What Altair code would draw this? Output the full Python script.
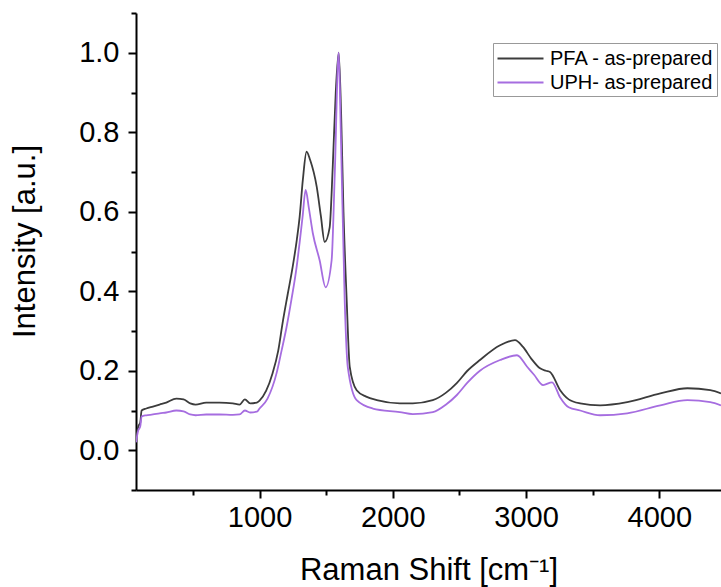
import altair as alt
import pandas as pd

# PFA - as-prepared (dark curve)
pfa_x = [73, 90, 105, 115, 150, 200, 250, 300, 376, 430, 480, 520, 600, 700, 800, 850, 890, 930, 980,
         1000, 1050, 1098, 1140, 1173, 1210, 1248, 1280, 1301, 1325, 1353, 1380, 1429, 1460, 1489, 1526,
         1549, 1572, 1594, 1612, 1630, 1654, 1677, 1729, 1800, 1880, 2053, 2150, 2300, 2400, 2480, 2560,
         2654, 2805, 2917, 2977, 3040, 3105, 3150, 3180, 3256, 3320, 3406, 3556, 3759, 4008, 4211, 4383, 4463]
pfa_y = [0.03, 0.06, 0.07, 0.10, 0.105, 0.11, 0.115, 0.12, 0.13, 0.128, 0.118, 0.115, 0.12, 0.12, 0.118, 0.115, 0.128, 0.118, 0.12,
         0.125, 0.15, 0.194, 0.25, 0.32, 0.39, 0.46, 0.53, 0.587, 0.68, 0.751, 0.73, 0.663, 0.59, 0.524, 0.56,
         0.71, 0.90, 1.0, 0.85, 0.60, 0.378, 0.21, 0.151, 0.135, 0.126, 0.118, 0.118, 0.126, 0.145, 0.169, 0.20,
         0.227, 0.264, 0.277, 0.26, 0.23, 0.206, 0.20, 0.197, 0.151, 0.128, 0.118, 0.113, 0.121, 0.143, 0.156, 0.151, 0.143]

# UPH- as-prepared (purple curve)
uph_x = [73, 90, 105, 115, 150, 200, 250, 300, 376, 430, 480, 520, 600, 700, 800, 850, 890, 930, 980,
         1000, 1060, 1128, 1165, 1203, 1240, 1278, 1300, 1323, 1346, 1370, 1400, 1451, 1496, 1541,
         1565, 1594, 1610, 1639, 1662, 1729, 1850, 2053, 2150, 2301, 2400, 2481, 2560, 2654, 2805, 2932,
         3008, 3060, 3128, 3195, 3256, 3320, 3406, 3556, 3759, 4008, 4211, 4383, 4463]
uph_y = [0.02, 0.05, 0.06, 0.085, 0.088, 0.09, 0.093, 0.095, 0.10, 0.098, 0.09, 0.088, 0.09, 0.09, 0.089, 0.09, 0.10, 0.095, 0.097,
         0.105, 0.13, 0.194, 0.25, 0.31, 0.38, 0.46, 0.52, 0.587, 0.655, 0.61, 0.546, 0.478, 0.41, 0.478,
         0.70, 1.0, 0.80, 0.378, 0.21, 0.126, 0.105, 0.096, 0.091, 0.096, 0.115, 0.139, 0.17, 0.20, 0.227, 0.239,
         0.21, 0.19, 0.164, 0.171, 0.133, 0.108, 0.10, 0.088, 0.093, 0.113, 0.126, 0.121, 0.113]

series_names = ["PFA - as-prepared", "UPH- as-prepared"]
series_colors = ["#3c3c3c", "#a66de0"]

x_ticks = [500, 1000, 1500, 2000, 2500, 3000, 3500, 4000]
y_ticks = [-0.1, 0.0, 0.1, 0.2, 0.3, 0.4, 0.5, 0.6, 0.7, 0.8, 0.9, 1.0, 1.1]

df = pd.concat([
    pd.DataFrame({"shift": pfa_x, "intensity": pfa_y, "series": series_names[0], "order": range(len(pfa_x))}),
    pd.DataFrame({"shift": uph_x, "intensity": uph_y, "series": series_names[1], "order": range(len(uph_x))}),
])

FONT = "Liberation Sans"

chart = alt.Chart(df).mark_line(strokeWidth=1.8, interpolate="monotone", clip=True).encode(
    x=alt.X("shift:Q",
            scale=alt.Scale(domain=[73, 4463], nice=False, zero=False),
            axis=alt.Axis(title="Raman Shift [cm⁻¹]", values=x_ticks, format="d",
                          labelExpr="datum.value % 1000 == 0 ? datum.label : ''",
                          tickSize={"condition": {"test": "datum.value % 1000 == 0", "value": 8}, "value": 5},
                          grid=False, labelPadding=5, titlePadding=23)),
    y=alt.Y("intensity:Q",
            scale=alt.Scale(domain=[-0.1, 1.1], nice=False, zero=False),
            axis=alt.Axis(title="Intensity [a.u.]", values=y_ticks, format=".1f",
                          labelExpr="round(datum.value * 10) % 2 == 0 && datum.value > -0.05 && datum.value < 1.05 ? datum.label : ''",
                          tickSize={"condition": {"test": "round(datum.value * 10) % 2 == 0", "value": 8}, "value": 5},
                          grid=False, labelPadding=9, titlePadding=37, titleY=228)),
    color=alt.Color("series:N",
                    scale=alt.Scale(domain=series_names, range=series_colors),
                    legend=alt.Legend(title=None, orient="none", legendX=357, legendY=30,
                                      symbolType="M-2,0L2,0", symbolSize=529, symbolStrokeWidth=1.8,
                                      symbolOffset=12,
                                      labelFontSize=20, labelFont=FONT, labelColor="#000000", labelLimit=0,
                                      strokeColor="#999999", padding=3, rowPadding=1,
                                      labelOffset=17)),
    order="order:Q",
).properties(
    width=585,
    height=477,
    padding={"left": 136, "top": 13, "right": 0, "bottom": 97},
    autosize=alt.AutoSizeParams(type="none"),
).configure_view(
    stroke=None
).configure_axis(
    domainColor="#000000", domainWidth=2, tickColor="#000000", tickWidth=2,
    labelFont=FONT, labelFontSize=29, labelColor="#000000",
    titleFont=FONT, titleFontSize=31, titleColor="#000000", titleFontWeight="normal",
)

chart.save("out.html", embed_options={"renderer": "svg", "actions": False})
